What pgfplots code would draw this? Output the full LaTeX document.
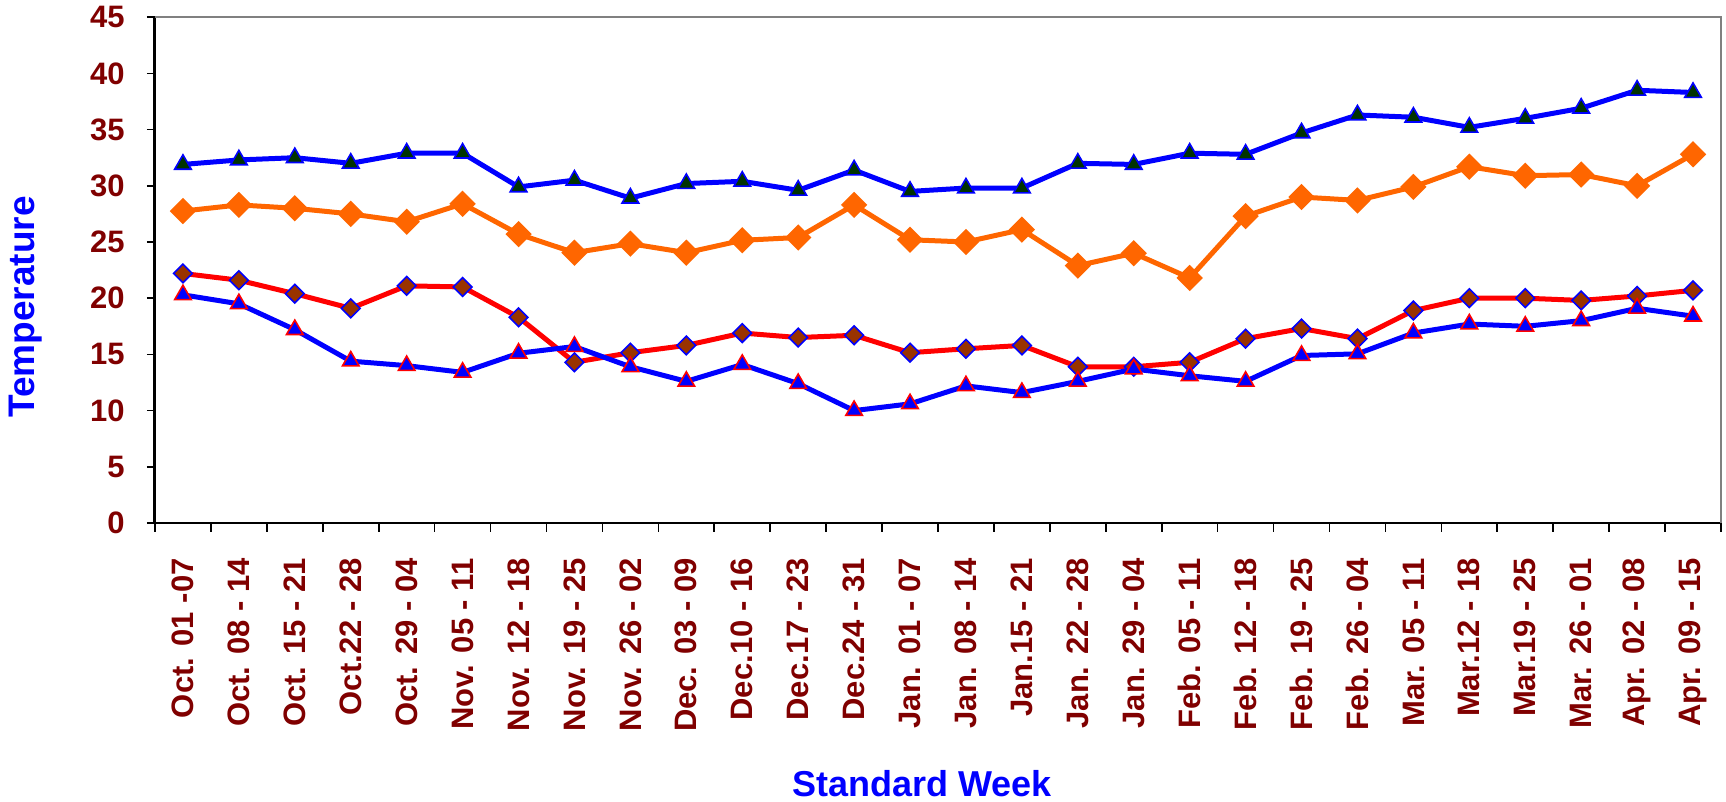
\documentclass[border=0pt]{standalone}
\usepackage{fontspec}
\setmainfont{Liberation Sans}
\usepackage{pgfplots}
\pgfplotsset{compat=1.18}

\definecolor{tickred}{HTML}{800000}
\definecolor{mxblue}{HTML}{0000FF}
\definecolor{mxgreen}{HTML}{003300}
\definecolor{rhorange}{HTML}{FF6600}
\definecolor{mnred}{HTML}{FF0000}
\definecolor{mnbrown}{HTML}{993300}

\begin{document}
\begin{tikzpicture}
\path[use as bounding box] (-77.5pt,-139.5pt) rectangle (785.5pt,261.5pt);
\begin{axis}[
    at={(0,0)}, anchor=south west,
    scale only axis, width=783pt, height=252.9pt,
    xmin=0.5, xmax=28.5, ymin=0, ymax=45,
    axis x line*=bottom, axis y line*=left,
    axis line style={black, line width=1pt, -},
    y axis line style={line width=1.5pt},
    xtick={1,...,28},
    xticklabels={Oct. 01 -07, Oct. 08 - 14, Oct. 15 - 21, Oct.22 - 28, Oct. 29 - 04,
        Nov. 05 - 11, Nov. 12 - 18, Nov. 19 - 25, Nov. 26 - 02, Dec. 03 - 09,
        Dec.10 - 16, Dec.17 - 23, Dec.24 - 31, Jan. 01 - 07, Jan. 08 - 14,
        Jan.15 - 21, Jan. 22 - 28, Jan. 29 - 04, Feb. 05 - 11, Feb. 12 - 18,
        Feb. 19 - 25, Feb. 26 - 04, Mar. 05 - 11, Mar.12 - 18, Mar.19 - 25,
        Mar. 26 - 01, Apr. 02 - 08, Apr. 09 - 15},
    major x tick style={draw=none},
    minor xtick={0.5,1.5,...,28.5},
    ytick={0,5,...,45},
    tick align=outside,
    major tick length=4pt, minor tick length=4.5pt,
    tick style={black, line width=0.8pt},
    /pgf/number format/assume math mode=true,
    x tick label style={rotate=90, anchor=east, inner sep=0pt, xshift=-13.5pt,
        font=\fontsize{15.5}{18}\selectfont\bfseries, text=tickred},
    y tick label style={inner sep=0pt, xshift=-11pt,
        font=\fontsize{15.5}{18}\selectfont\bfseries, text=tickred},
    clip=false,
]
\draw[gray, line width=0.9pt] (rel axis cs:0,1) -- (rel axis cs:1,1) -- (rel axis cs:1,0);

% maximum temperature
\addplot[mxblue, line width=2.5pt, mark=triangle*, mark size=4.8pt,
    mark options={fill=mxgreen, draw=mxblue, line width=0.8pt}] coordinates {
    (1,31.9) (2,32.3) (3,32.5) (4,32.0) (5,32.9) (6,32.9) (7,29.9)
    (8,30.5) (9,28.9) (10,30.2) (11,30.4) (12,29.6) (13,31.4) (14,29.5)
    (15,29.8) (16,29.8) (17,32.0) (18,31.9) (19,32.9) (20,32.8) (21,34.7)
    (22,36.3) (23,36.1) (24,35.2) (25,36.0) (26,36.9) (27,38.5) (28,38.3)};

% orange series
\addplot[rhorange, line width=2.5pt, mark=square*, mark size=3.4pt,
    mark options={rotate=45, fill=rhorange, draw=rhorange}] coordinates {
    (1,27.75) (2,28.3) (3,28.0) (4,27.5) (5,26.8) (6,28.4) (7,25.7)
    (8,24.05) (9,24.85) (10,24.05) (11,25.15) (12,25.4) (13,28.3) (14,25.2)
    (15,25.0) (16,26.1) (17,22.9) (18,24.0) (19,21.8) (20,27.3) (21,29.0)
    (22,28.7) (23,29.9) (24,31.7) (25,30.9) (26,31.0) (27,30.0) (28,32.8)};

% red series
\addplot[mnred, line width=2.5pt, mark=square*, mark size=3.3pt,
    mark options={rotate=45, fill=mnbrown, draw=mxblue, line width=0.8pt}] coordinates {
    (1,22.2) (2,21.6) (3,20.4) (4,19.1) (5,21.1) (6,21.0) (7,18.3)
    (8,14.3) (9,15.15) (10,15.8) (11,16.9) (12,16.5) (13,16.7) (14,15.15)
    (15,15.5) (16,15.8) (17,13.9) (18,13.9) (19,14.3) (20,16.4) (21,17.3)
    (22,16.4) (23,18.9) (24,20.0) (25,20.0) (26,19.8) (27,20.2) (28,20.7)};

% minimum temperature
\addplot[mxblue, line width=2.5pt, mark=triangle*, mark size=4.8pt,
    mark options={fill=mxblue, draw=mnred, line width=0.8pt}] coordinates {
    (1,20.3) (2,19.5) (3,17.2) (4,14.4) (5,14.0) (6,13.4) (7,15.1)
    (8,15.7) (9,13.9) (10,12.6) (11,14.1) (12,12.4) (13,10.0) (14,10.6)
    (15,12.2) (16,11.6) (17,12.6) (18,13.7) (19,13.1) (20,12.6) (21,14.9)
    (22,15.05) (23,16.9) (24,17.7) (25,17.5) (26,18.0) (27,19.1) (28,18.4)};
\end{axis}
\node[rotate=90, text=mxblue, font=\fontsize{18.5}{22}\selectfont\bfseries] at (-64.8pt,108pt) {Temperature};
\node[text=mxblue, font=\fontsize{18}{22}\selectfont\bfseries] at (383.5pt,-130.5pt) {Standard Week};
\end{tikzpicture}
\end{document}
